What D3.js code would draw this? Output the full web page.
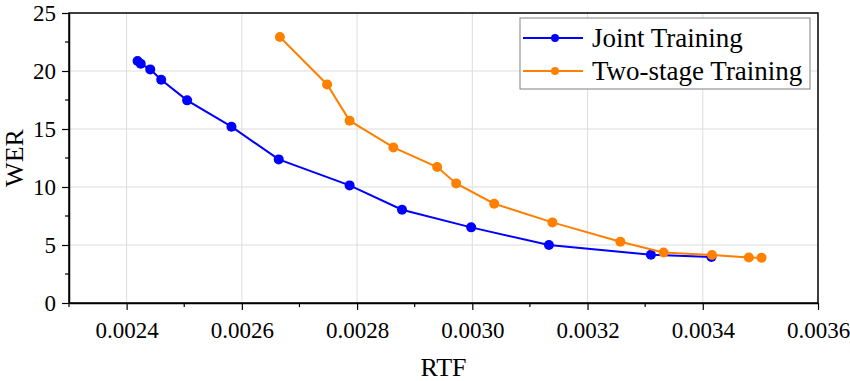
<!DOCTYPE html>
<html><head><meta charset="utf-8">
<script src="https://cdn.jsdelivr.net/npm/d3@7"></script>
<style>
html,body{margin:0;padding:0;background:#fff;}
svg text{font-family:"Liberation Serif","Times New Roman",serif !important;fill:#000;}
</style></head>
<body><svg id="chart" width="850" height="381"></svg>
<script>
const jointRTF = [0.002419,0.0024245,0.002441,0.00246,0.002505,0.002582,0.002664,0.002787,0.002878,0.002998,0.003133,0.00331,0.003415];
const jointWER = [20.86,20.63,20.14,19.25,17.47,15.2,12.38,10.14,8.04,6.52,5.0,4.16,3.97];
const twoRTF = [0.002666,0.002748,0.002787,0.002863,0.002939,0.002972,0.003038,0.003139,0.003257,0.003332,0.003416,0.00348,0.003502];
const twoWER = [22.93,18.84,15.72,13.41,11.72,10.31,8.56,6.95,5.28,4.36,4.14,3.93,3.91];
const xTicks = [0.0024,0.0026,0.0028,0.0030,0.0032,0.0034,0.0036];
const yTicks = [0,5,10,15,20,25];
const seriesNames = ["Joint Training","Two-stage Training"];
const seriesColors = ["#0000ff","#ff8000"];
const FONT = '"Liberation Serif","Times New Roman",serif';

const svg = d3.select("#chart");
const L=69, R=818, T=13, B=303;
const x = d3.scaleLinear().domain([0.0023,0.0036]).range([L,R]);
const y = d3.scaleLinear().domain([0,25]).range([B,T]);

// grid
const g = svg.append("g");
g.selectAll(".gx").data(xTicks.filter(d=>d<0.0036)).enter().append("line")
 .attr("x1",d=>x(d)).attr("x2",d=>x(d)).attr("y1",T).attr("y2",B)
 .attr("stroke","#dddddd").attr("stroke-width",1);
g.selectAll(".gy").data(yTicks.filter(d=>d>0&&d<25)).enter().append("line")
 .attr("x1",L).attr("x2",R).attr("y1",d=>y(d)).attr("y2",d=>y(d))
 .attr("stroke","#dddddd").attr("stroke-width",1);

// frame
svg.append("rect").attr("x",L).attr("y",T).attr("width",R-L).attr("height",B-T)
 .attr("fill","none").attr("stroke","#000").attr("stroke-width",1.5);

// axes
const xAxis = d3.axisBottom(x).tickValues(xTicks).tickFormat(d3.format(".4f")).tickSizeInner(7).tickSizeOuter(0).tickPadding(6);
const xa = svg.append("g").attr("transform",`translate(0,${B})`).call(xAxis);
const yAxis = d3.axisLeft(y).tickValues(yTicks).tickFormat(d3.format("d")).tickSizeInner(7).tickSizeOuter(0).tickPadding(6);
const ya = svg.append("g").attr("transform",`translate(${L},0)`).call(yAxis);
[xa,ya].forEach(a=>{
 a.attr("font-family",FONT).attr("font-size",23);
 a.select(".domain").attr("stroke","#000").attr("stroke-width",1.5);
 a.selectAll(".tick line").attr("stroke","#000").attr("stroke-width",1.2);
 a.selectAll("text").style("font-family",FONT).style("font-size","23px");});
xa.selectAll("text").attr("dy","0.95em");
ya.selectAll("text").attr("dy","0.33em");

// minor ticks
const xMinor = d3.range(0,6).map(i=>0.0023+0.0002*i);
svg.append("g").selectAll("line").data(xMinor).enter().append("line")
 .attr("x1",d=>x(d)).attr("x2",d=>x(d)).attr("y1",B).attr("y2",B+4)
 .attr("stroke","#000").attr("stroke-width",1.2);
const yMinor = [2.5,7.5,12.5,17.5,22.5];
svg.append("g").selectAll("line").data(yMinor).enter().append("line")
 .attr("x1",L-4).attr("x2",L).attr("y1",d=>y(d)).attr("y2",d=>y(d))
 .attr("stroke","#000").attr("stroke-width",1.2);

// axis titles
svg.append("text").attr("x",(L+R)/2).attr("y",376).attr("text-anchor","middle")
 .style("font-family",FONT).style("font-size","26px").text("RTF");
svg.append("text").attr("transform",`translate(23,${(T+B)/2}) rotate(-90)`).attr("text-anchor","middle")
 .style("font-family",FONT).style("font-size","26px").text("WER");

// series
const series = [
 {xs:jointRTF, ys:jointWER},
 {xs:twoRTF, ys:twoWER}
];
const line = d3.line().x(d=>x(d[0])).y(d=>y(d[1]));
series.forEach((s,i)=>{
 const pts = s.xs.map((v,j)=>[v,s.ys[j]]);
 svg.append("path").datum(pts).attr("d",line).attr("fill","none")
  .attr("stroke",seriesColors[i]).attr("stroke-width",2);
 svg.append("g").selectAll("circle").data(pts).enter().append("circle")
  .attr("cx",d=>x(d[0])).attr("cy",d=>y(d[1])).attr("r",5).attr("fill",seriesColors[i]);
});

// legend
const lg = svg.append("g");
lg.append("rect").attr("x",520).attr("y",18).attr("width",290).attr("height",71)
 .attr("fill","#fff").attr("stroke","#808080").attr("stroke-width",1);
seriesNames.forEach((n,i)=>{
 const yy = 38+i*33;
 lg.append("line").attr("x1",523).attr("x2",583).attr("y1",yy).attr("y2",yy)
  .attr("stroke",seriesColors[i]).attr("stroke-width",2);
 lg.append("circle").attr("cx",555).attr("cy",yy).attr("r",4).attr("fill",seriesColors[i]);
 lg.append("text").attr("x",592).attr("y",yy+8.5).style("font-family",FONT).style("font-size","27px").text(n);
});
</script></body></html>
